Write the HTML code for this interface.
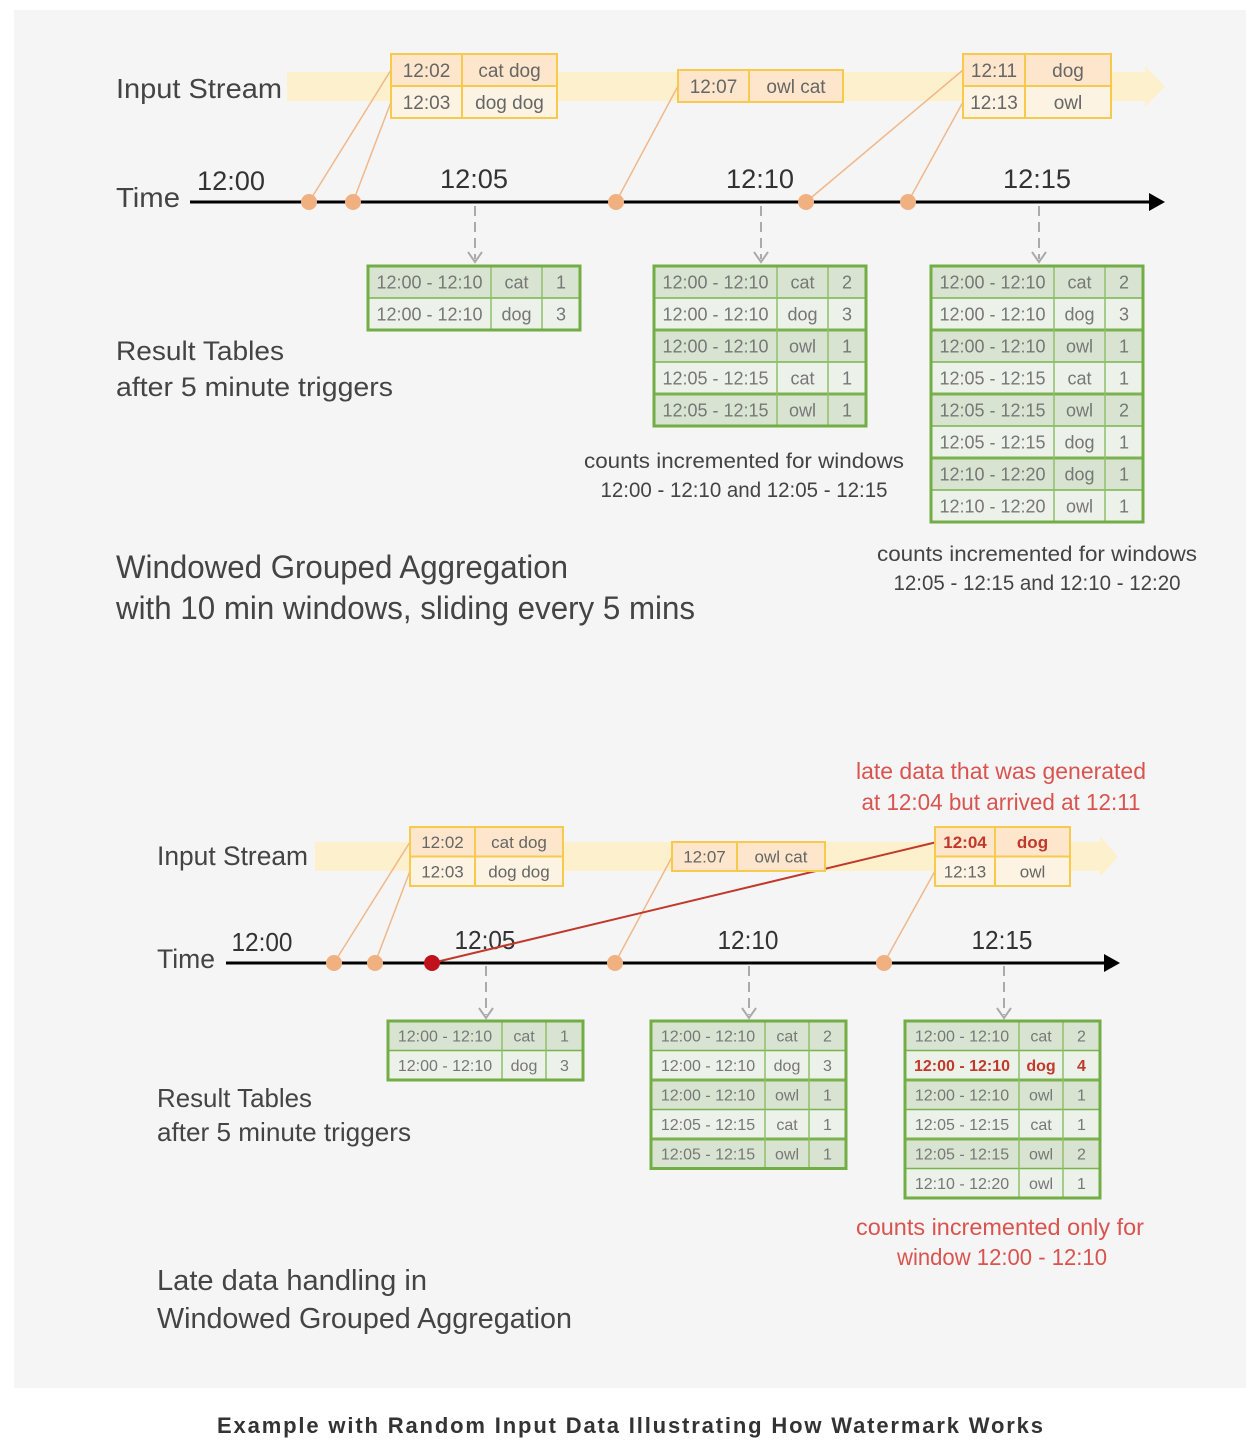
<!DOCTYPE html>
<html><head><meta charset="utf-8"><style>
html,body{margin:0;padding:0;background:#fff;}
svg{display:block;font-family:"Liberation Sans",sans-serif;}
</style></head><body>
<svg id="s" width="1256" height="1450" viewBox="0 0 1256 1450">
<rect x="14" y="10" width="1232" height="1378" fill="#f5f5f5"/>
<g id="g"></g>
<text x="630" y="1433" text-anchor="middle" font-size="22" font-weight="bold" fill="#333" textLength="826">Example with Random Input Data Illustrating How Watermark Works</text>
</svg>
<script>
const NS='http://www.w3.org/2000/svg';
const G=document.getElementById('g');
function el(t,a,txt,name){const e=document.createElementNS(NS,t);for(const k in a)e.setAttribute(k,a[k]);if(txt!==undefined)e.textContent=txt;


G.appendChild(e);return e;}
function text(x,y,s,size,fill,anchor,len,name,weight){const a={x:x,y:y,'font-size':size,fill:fill||'#444','text-anchor':anchor||'start'};if(len)a.textLength=len,a.lengthAdjust='spacingAndGlyphs';if(weight)a['font-weight']=weight;return el('text',a,s,name||'label');}
function band(x1,x2,y,h,tip,name){el('polygon',{points:`${x1},${y} ${x2},${y} ${x2},${y-6} ${tip},${y+h/2} ${x2},${y+h+6} ${x2},${y+h} ${x1},${y+h}`,fill:'#fdf0cc'},undefined,name);}
function axis(x1,x2,y,name){el('line',{x1:x1,y1:y,x2:x2-12,y2:y,stroke:'#000','stroke-width':3},undefined,name);
el('polygon',{points:`${x2-16},${y-9} ${x2},${y} ${x2-16},${y+9}`,fill:'#000'},undefined,name+'-arrow');}
function dashed(x,y1,y2,name){el('line',{x1:x,y1:y1,x2:x,y2:y2-3,stroke:'#aaa','stroke-width':2,'stroke-dasharray':'10,6'},undefined,name);
el('polyline',{points:`${x-7},${y2-10} ${x},${y2} ${x+7},${y2-10}`,fill:'none',stroke:'#aaa','stroke-width':2},undefined,name+'-head');}
function otable(x,y,cols,rh,rows,fs,name,redRow){let w=cols.reduce((a,b)=>a+b,0);
rows.forEach((r,i)=>{el('rect',{x:x,y:y+i*rh,width:w,height:rh,fill:i==0?'#fde6cc':'#fdf3e3'},undefined,name+'-row');
let cx=x;r.forEach((c,j)=>{const red=redRow===i;text(cx+cols[j]/2,y+i*rh+rh/2+fs*0.36,c,fs,red?'#c0392b':'#666','middle',null,name+'-cell',red?'bold':null);cx+=cols[j];});});
el('rect',{x:x,y:y,width:w,height:rh*rows.length,fill:'none',stroke:'#f7c94c','stroke-width':2},undefined,name+'-border');
for(let i=1;i<rows.length;i++)el('line',{x1:x,x2:x+w,y1:y+i*rh,y2:y+i*rh,stroke:'#f7c94c','stroke-width':2},undefined,name+'-rule');
el('line',{x1:x+cols[0],x2:x+cols[0],y1:y,y2:y+rh*rows.length,stroke:'#f7c94c','stroke-width':2},undefined,name+'-rule');}
function gtable(x,y,cols,rh,rows,fs,name,redRow){let w=cols.reduce((a,b)=>a+b,0);
rows.forEach((r,i)=>{el('rect',{x:x,y:y+i*rh,width:w,height:rh,fill:i%2==0?'#d8e4d1':'#ecf1e9'},undefined,name+'-row');
let cx=x;r.forEach((c,j)=>{const red=redRow===i;text(cx+cols[j]/2,y+i*rh+rh/2+fs*0.36,c,fs,red?'#c0392b':'#777','middle',null,name+'-cell',red?'bold':null);cx+=cols[j];});});
for(let i=1;i<rows.length;i++)el('line',{x1:x,x2:x+w,y1:y+i*rh,y2:y+i*rh,stroke:'#7ab24e','stroke-width':i%2==0?3:1.5},undefined,name+'-rule');
let cx=x;for(let j=0;j<cols.length-1;j++){cx+=cols[j];el('line',{x1:cx,x2:cx,y1:y,y2:y+rh*rows.length,stroke:'#8fbf6a','stroke-width':1.5},undefined,name+'-rule');}
el('rect',{x:x,y:y,width:w,height:rh*rows.length,fill:'none',stroke:'#72ad45','stroke-width':3},undefined,name+'-border');}
function conn(x1,y1,x2,y2,c,w,name){el('line',{x1:x1,y1:y1,x2:x2,y2:y2,stroke:c||'#f0b88a','stroke-width':w||1.5},undefined,name);}
function dot(x,y,c,name){el('circle',{cx:x,cy:y,r:8,fill:c||'#f0b080'},undefined,name);}

/* ---------- TOP ---------- */
text(116,98,'Input Stream',28,'#444','start',166,'input-stream-label-top');
band(287,1145,72,29,1165,'input-stream-band-top');
text(116,207,'Time',28,'#444','start',64,'time-label-top');
axis(190,1165,202,'time-axis-top');
[['12:00',231,190],['12:05',474,188],['12:10',760,188],['12:15',1037,188]].forEach(t=>text(t[1],t[2],t[0],27,'#333','middle',68,'tick-label-top'));
conn(391,70,309,202,null,null,'connector');conn(391,102,353,202,null,null,'connector');conn(678,86,616,202,null,null,'connector');
conn(963,70,806,202,null,null,'connector');conn(963,102,908,202,null,null,'connector');
[309,353,616,806,908].forEach(x=>dot(x,202,null,'event-dot-top'));
otable(391,54,[71,95],32,[['12:02','cat dog'],['12:03','dog dog']],19,'input-table-1202');
otable(678,70,[71,94],32,[['12:07','owl cat']],19,'input-table-1207');
otable(963,54,[62,86],32,[['12:11','dog'],['12:13','owl']],19,'input-table-1211');
dashed(475,206,262,'trigger-arrow-1205');dashed(761,206,262,'trigger-arrow-1210');dashed(1039,206,262,'trigger-arrow-1215');
const c1=[123,51,38];
gtable(368,266,c1,32,[['12:00 - 12:10','cat','1'],['12:00 - 12:10','dog','3']],18,'result-table-1205');
gtable(654,266,c1,32,[['12:00 - 12:10','cat','2'],['12:00 - 12:10','dog','3'],['12:00 - 12:10','owl','1'],['12:05 - 12:15','cat','1'],['12:05 - 12:15','owl','1']],18,'result-table-1210');
gtable(931,266,c1,32,[['12:00 - 12:10','cat','2'],['12:00 - 12:10','dog','3'],['12:00 - 12:10','owl','1'],['12:05 - 12:15','cat','1'],['12:05 - 12:15','owl','2'],['12:05 - 12:15','dog','1'],['12:10 - 12:20','dog','1'],['12:10 - 12:20','owl','1']],18,'result-table-1215');
text(116,360,'Result Tables',27,'#444','start',168,'result-tables-label');
text(116,396,'after 5 minute triggers',27,'#444','start',277,'result-tables-sublabel');
text(744,468,'counts incremented for windows',21,'#444','middle',320,'note-1210');
text(744,497,'12:00 - 12:10 and 12:05 - 12:15',21,'#444','middle',287,'note-1210-line2');
text(1037,561,'counts incremented for windows',21,'#444','middle',320,'note-1215');
text(1037,590,'12:05 - 12:15 and 12:10 - 12:20',21,'#444','middle',287,'note-1215-line2');
text(116,578,'Windowed Grouped Aggregation',32,'#444','start',452,'title-top');
text(116,619,'with 10 min windows, sliding every 5 mins',32,'#444','start',579,'subtitle-top');

/* ---------- BOTTOM ---------- */
text(1001,779,'late data that was generated',23,'#d9534f','middle',290,'late-data-note');
text(1001,810,'at 12:04 but arrived at 12:11',23,'#d9534f','middle',279,'late-data-note-line2');
text(157,865,'Input Stream',27,'#444','start',151,'input-stream-label-bottom');
band(315,1100,842,29,1118,'input-stream-band-bottom');
text(157,968,'Time',27,'#444','start',58,'time-label-bottom');
axis(226,1120,963,'time-axis-bottom');
[['12:00',262,951],['12:05',485,949],['12:10',748,949],['12:15',1002,949]].forEach(t=>text(t[1],t[2],t[0],26,'#333','middle',61,'tick-label-bottom'));
conn(410,842,334,963,null,null,'connector');conn(410,871,375,963,null,null,'connector');conn(672,857,615,963,null,null,'connector');conn(935,871,884,963,null,null,'connector');
conn(432,963,937,842,'#c0392b',2,'late-data-connector');
[334,375,615,884].forEach(x=>dot(x,963,null,'event-dot-bottom'));
dot(432,963,'#c0121b','late-event-dot');
otable(410,827,[65,88],29.5,[['12:02','cat dog'],['12:03','dog dog']],17,'input-table-1202-b');
otable(672,842,[65,88],29,[['12:07','owl cat']],17,'input-table-1207-b');
otable(935,827,[60,75],29.5,[['12:04','dog'],['12:13','owl']],17,'input-table-1204-late',0);
dashed(486,966,1018,'trigger-arrow-1205-b');dashed(749,966,1018,'trigger-arrow-1210-b');dashed(1004,966,1018,'trigger-arrow-1215-b');
const c2=[114,44,37];
gtable(388,1021,c2,29.5,[['12:00 - 12:10','cat','1'],['12:00 - 12:10','dog','3']],16,'result-table-1205-b');
gtable(651,1021,c2,29.5,[['12:00 - 12:10','cat','2'],['12:00 - 12:10','dog','3'],['12:00 - 12:10','owl','1'],['12:05 - 12:15','cat','1'],['12:05 - 12:15','owl','1']],16,'result-table-1210-b');
gtable(905,1021,c2,29.5,[['12:00 - 12:10','cat','2'],['12:00 - 12:10','dog','4'],['12:00 - 12:10','owl','1'],['12:05 - 12:15','cat','1'],['12:05 - 12:15','owl','2'],['12:10 - 12:20','owl','1']],16,'result-table-1215-b',1);
text(157,1107,'Result Tables',26,'#444','start',155,'result-tables-label-b');
text(157,1141,'after 5 minute triggers',26,'#444','start',254,'result-tables-sublabel-b');
text(1000,1235,'counts incremented only for',23,'#d9534f','middle',288,'late-note');
text(1002,1265,'window 12:00 - 12:10',23,'#d9534f','middle',210,'late-note-line2');
text(157,1290,'Late data handling in',29,'#444','start',270,'title-bottom');
text(157,1328,'Windowed Grouped Aggregation',29,'#444','start',415,'subtitle-bottom');
</script>
</body></html>
